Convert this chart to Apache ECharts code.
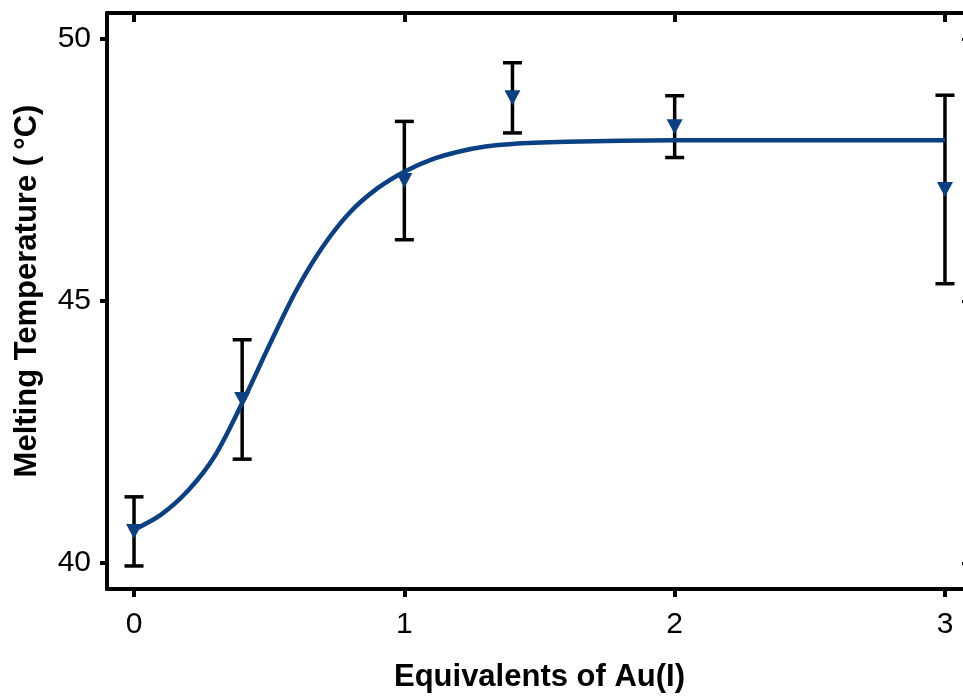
<!DOCTYPE html>
<html>
<head>
<meta charset="utf-8">
<script src="https://cdn.jsdelivr.net/npm/echarts@6/dist/echarts.min.js"></script>
<style>html,body{margin:0;padding:0;background:#fff;overflow:hidden}#c{width:985px;height:700px}</style>
</head>
<body>
<div id="c"></div>
<script>
// Measured points (equivalents of Au(I), melting temperature °C, error)
const eqX = [0, 0.4, 1, 1.4, 2, 3];
const meltT = [40.6, 43.12, 47.3, 48.88, 48.33, 47.13];
const errT = [0.66, 1.14, 1.13, 0.67, 0.59, 1.8];
// Fitted curve
const fitX = [0, 0.1, 0.2, 0.3, 0.4, 0.5, 0.6, 0.7, 0.8, 0.9, 1.0, 1.1, 1.2, 1.3, 1.4, 1.6, 1.8, 2.0, 2.5, 3.0];
const fitY = [40.63, 40.92, 41.38, 42.05, 43.05, 44.15, 45.2, 46.05, 46.7, 47.15, 47.47, 47.7, 47.85, 47.95, 48.0, 48.04, 48.06, 48.07, 48.07, 48.07];
const xTicks = [0, 1, 2, 3];
const yTicks = [40, 45, 50];

const BLUE = '#0b4085';
const FONT = '"Liberation Sans", Arial, sans-serif';

const chart = echarts.init(document.getElementById('c'));
const axisLine = {show: true, onZero: false, lineStyle: {color: '#000', width: 4}};
chart.setOption({
  animation: false,
  backgroundColor: '#fff',
  grid: {left: 107, top: 13, bottom: 111, right: 13, containLabel: false},
  xAxis: [{
    type: 'value', min: -0.1, max: 3.1, position: 'bottom',
    axisLine: axisLine, splitLine: {show: false},
    axisTick: {show: true, inside: false, length: 8, lineStyle: {width: 4, color: '#000'}, customValues: xTicks},
    axisLabel: {customValues: xTicks, fontSize: 30, color: '#000', fontFamily: FONT, margin: 21},
    name: 'Equivalents of Au(I)', nameLocation: 'middle', nameGap: 73,
    nameTextStyle: {fontSize: 31, fontWeight: 'bold', color: '#000', fontFamily: FONT}
  }, {
    type: 'value', min: -0.1, max: 3.1, position: 'top',
    axisLine: axisLine, splitLine: {show: false},
    axisTick: {show: true, inside: true, length: 9, lineStyle: {width: 4, color: '#000'}, customValues: xTicks},
    axisLabel: {show: false}
  }],
  yAxis: [{
    type: 'value', min: 39.5, max: 50.5, position: 'left',
    axisLine: axisLine, splitLine: {show: false},
    axisTick: {show: true, inside: false, length: 7, lineStyle: {width: 4, color: '#000'}, customValues: yTicks},
    axisLabel: {customValues: yTicks, fontSize: 30, color: '#000', fontFamily: FONT, margin: 16},
    name: 'Melting Temperature (\u2009°C)', nameLocation: 'middle', nameGap: 64,
    nameTextStyle: {fontSize: 31, fontWeight: 'bold', color: '#000', fontFamily: FONT, padding: [0, 0, 0, 20]}
  }, {
    type: 'value', min: 39.5, max: 50.5, position: 'right',
    axisLine: axisLine, splitLine: {show: false},
    axisTick: {show: true, inside: true, length: 10, lineStyle: {width: 3, color: '#000'}, customValues: yTicks},
    axisLabel: {show: false}
  }],
  series: [{
    type: 'custom',
    data: eqX.map((x, i) => [x, meltT[i] - errT[i], meltT[i] + errT[i]]),
    renderItem: function (params, api) {
      const lo = api.coord([api.value(0), api.value(1)]);
      const hi = api.coord([api.value(0), api.value(2)]);
      const w = 9.5;
      const st = {stroke: '#000', lineWidth: 3.5};
      return {type: 'group', children: [
        {type: 'line', shape: {x1: lo[0], y1: lo[1], x2: hi[0], y2: hi[1]}, style: st},
        {type: 'line', shape: {x1: lo[0] - w, y1: lo[1], x2: lo[0] + w, y2: lo[1]}, style: st},
        {type: 'line', shape: {x1: hi[0] - w, y1: hi[1], x2: hi[0] + w, y2: hi[1]}, style: st}
      ]};
    },
    z: 2
  }, {
    type: 'scatter',
    data: eqX.map((x, i) => [x, meltT[i]]),
    symbol: 'triangle', symbolRotate: 180, symbolSize: [16, 15],
    itemStyle: {color: BLUE, opacity: 1},
    z: 3
  }, {
    type: 'line',
    data: fitX.map((x, i) => [x, fitY[i]]),
    smooth: 0.3, showSymbol: false, symbol: 'none',
    lineStyle: {color: BLUE, width: 4.5},
    z: 4
  }]
});
</script>
</body>
</html>
